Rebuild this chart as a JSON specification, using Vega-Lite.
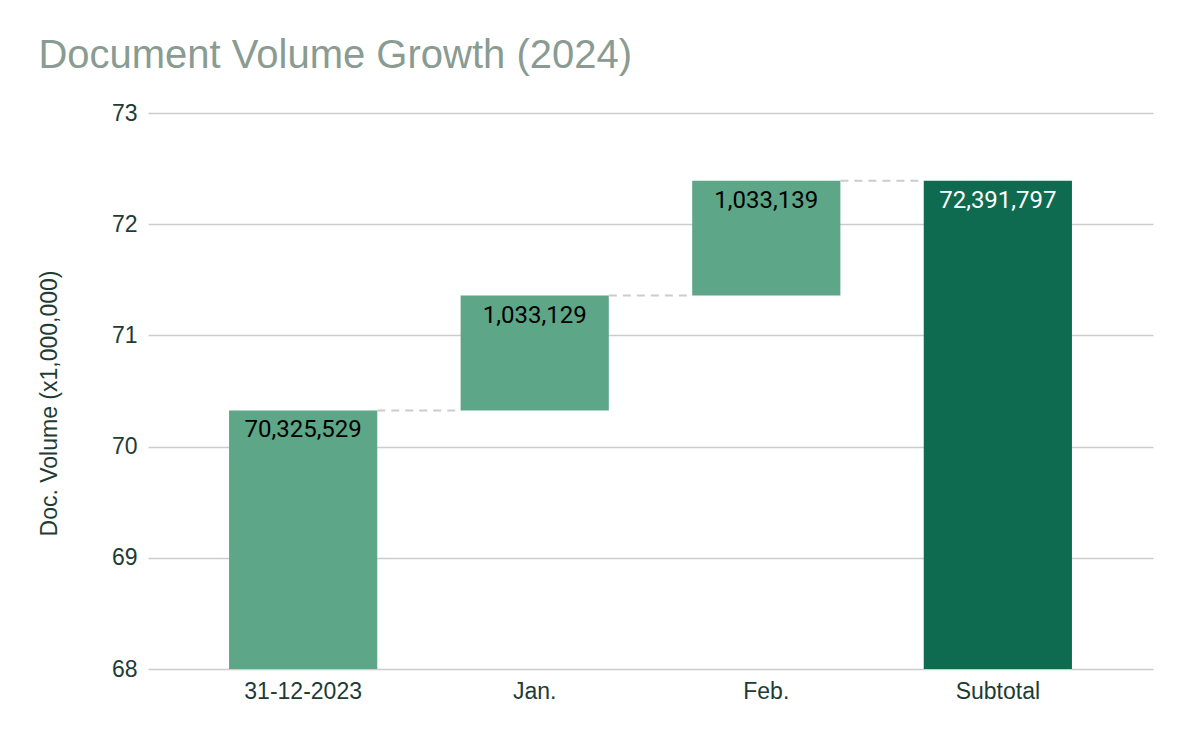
{
  "$schema": "https://vega.github.io/schema/vega-lite/v6.json",
  "autosize": {"type": "none"},
  "padding": {"left": 148, "top": 113, "right": 37, "bottom": 73},
  "width": 1005,
  "height": 556,
  "background": "white",
  "title": {
    "text": "Document Volume Growth (2024)",
    "anchor": "start",
    "frame": "bounds",
    "font": "Liberation Sans",
    "fontSize": 40,
    "fontWeight": "normal",
    "color": "#8a9b92",
    "offset": 26,
    "dx": 0
  },
  "config": {
    "view": {"stroke": null},
    "axis": {"labelFont": "Liberation Sans", "titleFont": "Liberation Sans"}
  },
  "datasets": {
    "bars": [
      {"cat": "31-12-2023", "start": 0, "end": 70.325529, "label": "70,325,529", "type": "step"},
      {"cat": "Jan.", "start": 70.325529, "end": 71.358658, "label": "1,033,129", "type": "step"},
      {"cat": "Feb.", "start": 71.358658, "end": 72.391797, "label": "1,033,139", "type": "step"},
      {"cat": "Subtotal", "start": 0, "end": 72.391797, "label": "72,391,797", "type": "total"}
    ],
    "links": [
      {"from": "31-12-2023", "to": "Jan.", "level": 70.325529},
      {"from": "Jan.", "to": "Feb.", "level": 71.358658},
      {"from": "Feb.", "to": "Subtotal", "level": 72.391797}
    ]
  },
  "layer": [
    {
      "data": {"name": "bars"},
      "mark": {"type": "bar", "clip": true},
      "encoding": {
        "x": {
          "field": "cat",
          "type": "nominal",
          "sort": null,
          "scale": {"paddingInner": 0.36, "paddingOuter": 0.35},
          "axis": {
            "title": null,
            "labelAngle": 0,
            "labelFontSize": 23,
            "labelColor": "#1e3b34",
            "labelPadding": 11,
            "ticks": false,
            "domain": false
          }
        },
        "y": {
          "field": "end",
          "type": "quantitative",
          "scale": {"domain": [68, 73], "nice": false, "zero": false},
          "axis": {
            "title": "Doc. Volume (x1,000,000)",
            "titleFontSize": 23,
            "titleFontWeight": "normal",
            "titleColor": "#1e3b34",
            "titlePadding": 50,
            "titleY": 290,
            "values": [68, 69, 70, 71, 72, 73],
            "format": "d",
            "labelFontSize": 23,
            "labelColor": "#1e3b34",
            "labelPadding": 11,
            "ticks": false,
            "domain": false,
            "gridColor": "#cccccc",
            "gridWidth": 1.3
          }
        },
        "y2": {"field": "start"},
        "color": {
          "field": "type",
          "type": "nominal",
          "scale": {"domain": ["step", "total"], "range": ["#5da688", "#0f6b50"]},
          "legend": null
        }
      }
    },
    {
      "data": {"name": "links"},
      "mark": {"type": "rule", "strokeDash": [8, 6], "color": "#cccccc", "strokeWidth": 2},
      "encoding": {
        "x": {"field": "from", "type": "nominal", "bandPosition": 1, "sort": null},
        "x2": {"field": "to", "bandPosition": 0},
        "y": {"field": "level", "type": "quantitative"}
      }
    },
    {
      "data": {"name": "bars"},
      "mark": {"type": "text", "baseline": "top", "dy": 8, "font": "Roboto", "fontSize": 24},
      "encoding": {
        "x": {"field": "cat", "type": "nominal", "sort": null},
        "y": {"field": "end", "type": "quantitative"},
        "text": {"field": "label"},
        "color": {
          "field": "type",
          "type": "nominal",
          "scale": {"domain": ["step", "total"], "range": ["#000000", "#ffffff"]},
          "legend": null
        }
      }
    }
  ],
  "resolve": {"scale": {"color": "independent"}}
}
